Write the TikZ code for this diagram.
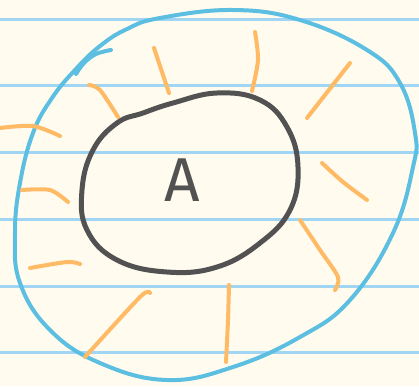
\documentclass[tikz,border=0pt]{standalone}
\usepackage{tikz}
\usepackage{fontspec}
\setsansfont{Fira Sans}
\usetikzlibrary{arrows}

\definecolor{paper}{RGB}{255,251,239}
\definecolor{ruled}{RGB}{160,214,244}
\definecolor{outerblue}{RGB}{92,191,226}
\definecolor{innergray}{RGB}{82,82,82}
\definecolor{rayorange}{RGB}{255,186,102}

\begin{document}
\begin{tikzpicture}[x=1pt, y=-1pt,
		ruleline/.style={ruled, line width=3pt},
		ray/.style={rayorange, line width=4pt, line cap=round, line join=round},
		outerloop/.style={outerblue, line width=4pt, line cap=round},
		innerloop/.style={innergray, line width=5pt, line cap=round}]
		\fill[paper] (0,0) rectangle (419,386);
		\useasboundingbox (0,0) rectangle (419,386);
		% ruled lines of the sheet
		\foreach \y in {19.3,85.6,152.3,219.3,286,352.3}
			\draw[ruleline] (0,\y) -- (419,\y);
		% outer blue loop
		\draw[outerloop] plot[smooth, tension=0.6] coordinates {(111,50) (96,54) (84,63) (76,74)};
		\draw[outerloop] plot[smooth cycle, tension=0.7] coordinates {
			(100,46) (127,29) (160,18) (233,10) (300,20) (367,50) (400,83) (415,133)
			(413,167) (393,233) (350,300) (300,337) (233,367) (167,380)
			(100,363) (50,330) (20,283) (15,233) (20,183) (33,133) (52,98) (75,70)};
		% inner dark loop
		\draw[innerloop] plot[smooth cycle, tension=0.7] coordinates {
			(143,113) (173,103) (217,93) (260,100) (287,127) (298,167) (290,210)
			(260,243) (217,267) (167,272) (117,260) (87,230) (82,190) (93,150) (117,123)};
		\node[innergray, font=\sffamily\fontsize{62}{62}\selectfont] (lbl) at (182,180) {A};
		% orange rays
		\draw[ray] plot[smooth] coordinates {(0,128) (33,126) (60,136)};
		\draw[ray] plot[smooth] coordinates {(22,190) (50,190) (68,202)};
		\draw[ray] plot[smooth] coordinates {(30,268) (67,262) (80,264)};
		\draw[ray] plot[smooth] coordinates {(85,357) (140,297) (150,293)};
		\draw[ray] plot[smooth] coordinates {(226,362) (228,320) (229,285)};
		\draw[ray] plot[smooth] coordinates {(335,290) (338,277) (320,250) (300,220)};
		\draw[ray] plot[smooth] coordinates {(322,163) (343,182) (367,200)};
		\draw[ray] (307,118) -- (350,63);
		\draw[ray] plot[smooth] coordinates {(252,91) (258,60) (255,32)};
		\draw[ray] (154,48) -- (169,93);
		\draw[ray] plot[smooth] coordinates {(89,85) (100,90) (118,117)};
	\end{tikzpicture}
\end{document}
